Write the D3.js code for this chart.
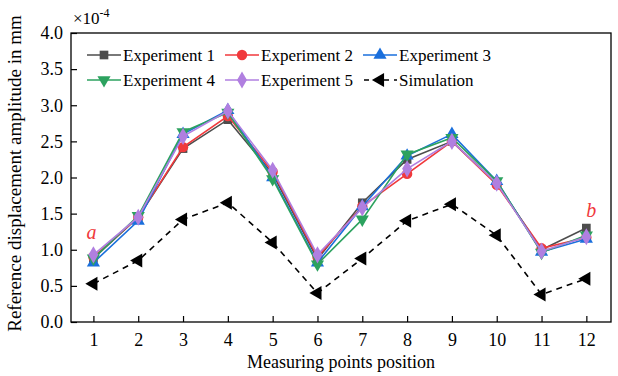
<!DOCTYPE html>
<html>
<head>
<meta charset="utf-8">
<script src="https://cdn.jsdelivr.net/npm/d3@7"></script>
<style>
  body { margin: 0; background: #fff; }
</style>
</head>
<body>
<svg id="chart" width="618" height="376"></svg>
<script>
// measuring points
const points = [1, 2, 3, 4, 5, 6, 7, 8, 9, 10, 11, 12]
// amplitudes in units of 1e-4 mm
const exp1 = [0.88, 1.45, 2.40, 2.80, 2.05, 0.87, 1.65, 2.25, 2.50, 1.92, 1.00, 1.30]
const exp2 = [0.90, 1.45, 2.42, 2.85, 2.08, 0.90, 1.60, 2.05, 2.50, 1.90, 1.02, 1.17]
const exp3 = [0.82, 1.40, 2.60, 2.93, 2.00, 0.82, 1.60, 2.30, 2.60, 1.95, 0.97, 1.15]
const exp4 = [0.88, 1.47, 2.63, 2.90, 1.98, 0.80, 1.42, 2.32, 2.55, 1.95, 0.96, 1.20]
const exp5 = [0.93, 1.45, 2.57, 2.92, 2.10, 0.93, 1.58, 2.12, 2.50, 1.92, 0.98, 1.18]
const simulation = [0.53, 0.85, 1.42, 1.65, 1.10, 0.40, 0.88, 1.40, 1.63, 1.20, 0.38, 0.60]
const yTicks = [0, 0.5, 1.0, 1.5, 2.0, 2.5, 3.0, 3.5, 4.0]

const FONT = "'Liberation Serif', 'Times New Roman', serif"

const series = [
  { name: "Experiment 1", values: exp1, color: "#4d4d4d", sym: d3.symbolSquare, size: 75, rot: 0 },
  { name: "Experiment 2", values: exp2, color: "#f0393c", sym: d3.symbolCircle, size: 85, rot: 0 },
  { name: "Experiment 3", values: exp3, color: "#1a6fdc", sym: d3.symbolTriangle, size: 75, rot: 0 },
  { name: "Experiment 4", values: exp4, color: "#2ca25f", sym: d3.symbolTriangle, size: 75, rot: 180 },
  { name: "Experiment 5", values: exp5, color: "#b07fe0", sym: d3.symbolDiamond, size: 85, rot: 0 },
  { name: "Simulation", values: simulation, color: "#000000", sym: d3.symbolTriangle, size: 85, rot: -90, dash: "6,5" }
]

const margin = { top: 33, right: 7, bottom: 54, left: 71 }
const W = 618, H = 376
const svg = d3.select("#chart")
const iw = W - margin.left - margin.right
const ih = H - margin.top - margin.bottom
const g = svg.append("g").attr("transform", `translate(${margin.left},${margin.top})`)

const x = d3.scaleLinear().domain([0.5, 12.55]).range([0, iw])
const y = d3.scaleLinear().domain([0, 4]).range([ih, 0])

// axes with inward ticks
const xAxis = d3.axisBottom(x).tickValues(points).tickSize(-6).tickPadding(11).tickFormat(d3.format("d"))
const yAxis = d3.axisLeft(y).tickValues(yTicks).tickSize(-6).tickPadding(8).tickFormat(d3.format(".1f"))

const gx = g.append("g").attr("transform", `translate(0,${ih})`).call(xAxis)
const gy = g.append("g").call(yAxis)
for (const a of [gx, gy]) {
  a.attr("font-family", FONT).attr("font-size", 18)
  a.select(".domain").remove()
  a.selectAll("line").attr("stroke", "#000").attr("stroke-width", 1.2)
  a.selectAll("text").attr("fill", "#000")
}

// frame
g.append("rect").attr("width", iw).attr("height", ih)
  .attr("fill", "none").attr("stroke", "#000").attr("stroke-width", 1.3)

const line = d3.line().x((d, i) => x(points[i])).y(d => y(d))

series.forEach(s => {
  g.append("path").datum(s.values)
    .attr("d", line)
    .attr("fill", "none")
    .attr("stroke", s.color)
    .attr("stroke-width", 1.6)
    .attr("stroke-dasharray", s.dash || null)
  g.selectAll(null).data(s.values).enter().append("path")
    .attr("d", d3.symbol(s.sym, s.size))
    .attr("transform", (d, i) => `translate(${x(points[i])},${y(d)}) rotate(${s.rot})`)
    .attr("fill", s.color)
})

// legend
const legCols = [16, 154, 292]
const legRows = [22, 47]
series.forEach((s, i) => {
  const lx = legCols[i % 3], ly = legRows[Math.floor(i / 3)]
  const lg = g.append("g").attr("transform", `translate(${lx},${ly})`)
  lg.append("line").attr("x1", 0).attr("x2", 34).attr("y1", 0).attr("y2", 0)
    .attr("stroke", s.color).attr("stroke-width", 1.6)
    .attr("stroke-dasharray", s.dash ? "5,5" : null)
    .attr("stroke-dashoffset", s.dash ? -1 : null)
  lg.append("path").attr("d", d3.symbol(s.sym, s.size))
    .attr("transform", `translate(17,0) rotate(${s.rot})`).attr("fill", s.color)
  lg.append("text").attr("x", 36).attr("y", 5.5).attr("font-family", FONT)
    .attr("font-size", 17).text(s.name)
})

// annotations
g.append("text").attr("x", x(1) - 2).attr("y", y(1.15)).attr("font-size", 20).attr("font-family", FONT)
  .attr("font-style", "italic").attr("fill", "#f0393c").attr("text-anchor", "middle").text("a")
g.append("text").attr("x", x(12) + 5).attr("y", y(1.45)).attr("font-size", 20).attr("font-family", FONT)
  .attr("font-style", "italic").attr("fill", "#f0393c").attr("text-anchor", "middle").text("b")

// multiplier
const mult = svg.append("text").attr("x", margin.left + 2).attr("y", 24)
  .attr("font-family", FONT).attr("font-size", 17)
mult.append("tspan").text("×10")
mult.append("tspan").attr("font-size", 12).attr("dy", -7).text("-4")

// axis titles
svg.append("text").attr("x", margin.left + iw / 2).attr("y", 368).attr("text-anchor", "middle")
  .attr("font-family", FONT).attr("font-size", 18).text("Measuring points position")
svg.append("text").attr("transform", `translate(21,${margin.top + ih / 2 - 4}) rotate(-90)`)
  .attr("text-anchor", "middle").attr("font-family", FONT).attr("font-size", 19)
  .text("Reference displacement amplitude in mm")
</script>
</body>
</html>
